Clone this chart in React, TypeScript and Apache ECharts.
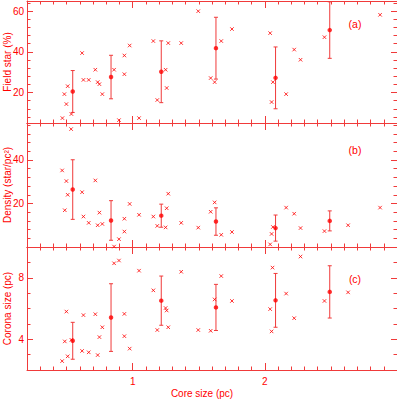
import React, { useEffect, useRef } from 'react';
import * as echarts from 'echarts';

// ---- data ----
const xRange = [0.2, 3.0];
const xTickLabels = [1, 2];

const fieldStarPoints: number[][] = [
  [0.468, 7.4], [0.483, 19.2], [0.498, 14.3], [0.508, 23.1], [0.536, 9.4], [0.617, 39.4],
  [0.627, 26.2], [0.667, 26.2], [0.717, 31.2], [0.735, 25.1], [0.748, 24.1], [0.770, 19.2],
  [0.859, 31.2], [0.896, 6.4], [0.937, 38.2], [0.937, 29.0], [0.977, 43.1], [1.048, 7.4],
  [1.156, 45.3], [1.186, 16.3], [1.249, 31.2], [1.257, 22.2], [1.269, 44.3], [1.367, 44.3],
  [1.496, 60.0], [1.590, 27.1], [1.620, 25.1], [1.670, 45.3], [1.751, 51.2], [2.040, 49.2],
  [2.061, 25.1], [2.051, 15.3], [2.161, 19.2], [2.222, 41.1], [2.270, 36.1], [2.451, 47.2],
  [2.872, 58.2],
];
const fieldStarMeans: number[][] = [
  [0.546, 20.5, 10.3], [0.836, 27.6, 10.7], [1.216, 30.2, 15.2],
  [1.630, 41.8, 15.2], [2.081, 27.2, 15.2], [2.491, 50.7, 13.9],
];

const densityPoints: number[][] = [
  [0.534, 54.2], [0.466, 35.2], [0.498, 30.3], [0.508, 24.0], [0.486, 16.9], [0.617, 25.2],
  [0.627, 14.0], [0.667, 11.1], [0.717, 30.6], [0.735, 10.0], [0.748, 15.8], [0.770, 10.6],
  [0.859, 0.2], [0.896, 3.6], [0.937, 13.0], [0.937, 7.1], [0.977, 19.8], [1.048, 14.8],
  [1.156, 14.0], [1.186, 9.7], [1.249, 9.0], [1.257, 17.8], [1.269, 24.5], [1.367, 11.1],
  [1.496, 8.9], [1.620, 20.5], [1.590, 16.2], [1.670, 5.6], [1.751, 6.9], [2.040, 1.2],
  [2.051, 6.0], [2.061, 9.2], [2.161, 18.1], [2.222, 15.3], [2.270, 8.7], [2.451, 7.3],
  [2.630, 10.0], [2.872, 18.1],
];
const densityMeans: number[][] = [
  [0.546, 26.4, 13.7], [0.836, 12.2, 9.1], [1.216, 14.4, 5.3],
  [1.630, 11.7, 6.3], [2.081, 8.7, 6.0], [2.491, 12.0, 4.6],
];

const coronaPoints: number[][] = [
  [0.466, 2.58], [0.486, 3.86], [0.498, 5.80], [0.508, 2.89], [0.536, 3.96], [0.617, 3.24],
  [0.627, 5.57], [0.667, 3.15], [0.717, 5.63], [0.735, 2.97], [0.748, 4.14], [0.770, 4.78],
  [0.859, 8.94], [0.896, 9.12], [0.937, 5.65], [0.937, 4.20], [0.977, 3.39], [1.048, 8.46],
  [1.156, 7.18], [1.186, 4.60], [1.249, 6.03], [1.257, 5.87], [1.269, 4.78], [1.367, 8.39],
  [1.496, 4.60], [1.590, 4.55], [1.620, 6.59], [1.670, 8.11], [1.751, 6.49], [2.058, 8.66],
  [2.040, 5.96], [2.051, 4.51], [2.161, 6.97], [2.222, 5.37], [2.270, 9.38], [2.451, 6.49],
  [2.630, 7.05],
];
const coronaMeans: number[][] = [
  [0.546, 3.90, 1.2], [0.836, 5.41, 2.2], [1.216, 6.51, 1.6],
  [1.630, 6.07, 1.5], [2.081, 6.53, 1.75], [2.491, 7.08, 1.7],
];

const yLabelsA = [20, 40, 60];
const yLabelsB = [20, 40];
const yLabelsC = [4, 8];

const panelNames = ['Field star (%)', 'Density (star/pc\u00b2)', 'Corona size (pc)'];
const panelTags = ['(a)', '(b)', '(c)'];
const xName = 'Core size (pc)';

// ---- styling ----
const RED = '#ff0000';
const LINE = '#f03a3a';
const FONT = '"Liberation Sans", Arial, Helvetica, sans-serif';

function steps(a: number, b: number, s: number): number[] {
  const out: number[] = [];
  for (let v = a; v <= b + 1e-9; v += s) out.push(Math.round(v * 1000) / 1000);
  return out;
}

const panels = [
  { points: fieldStarPoints, means: fieldStarMeans, min: 5, max: 65, labels: yLabelsA, minor: steps(8, 64, 4) },
  { points: densityPoints, means: densityMeans, min: 0, max: 57, labels: yLabelsB, minor: steps(4, 56, 4) },
  { points: coronaPoints, means: coronaMeans, min: 2, max: 10, labels: yLabelsC, minor: steps(3, 9, 1) },
];

const grids = [
  { left: 27, top: 1, width: 370, height: 122 },
  { left: 27, top: 123, width: 370, height: 124 },
  { left: 27, top: 247, width: 370, height: 123 },
];

const xMinor = steps(0.3, 2.9, 0.1);
const xMajor = [1, 2];

function buildOption() {
  const xAxes: any[] = [];
  const yAxes: any[] = [];
  const series: any[] = [];

  panels.forEach((p, g) => {
    const isLast = g === panels.length - 1;
    const xBase = {
      type: 'value', gridIndex: g, min: xRange[0], max: xRange[1],
      splitLine: { show: false },
    };
    const mkX = (pos: string, ticks: number[], len: number, line: boolean, labels: boolean) => ({
      ...xBase,
      position: pos,
      axisLine: { show: line, onZero: false, lineStyle: { color: LINE, width: 1 } },
      axisTick: { show: true, inside: true, length: len, customValues: ticks, lineStyle: { color: LINE, width: 1 } },
      axisLabel: labels
        ? { show: true, customValues: xTickLabels, color: RED, fontSize: 10, fontFamily: FONT, margin: 6 }
        : { show: false },
      ...(labels
        ? {
            name: xName, nameLocation: 'middle', nameGap: 18, nameMoveOverlap: false,
            nameTextStyle: { color: RED, fontSize: 10, fontFamily: FONT, padding: [0, 20, 0, 0] },
          }
        : {}),
    });
    xAxes.push(mkX('bottom', xMinor, 3.5, true, false));
    xAxes.push(mkX('bottom', xMajor, 7, false, isLast));
    xAxes.push(mkX('top', xMinor, 3.5, true, false));
    xAxes.push(mkX('top', xMajor, 7, false, false));

    const mkY = (pos: string, ticks: number[], len: number, line: boolean, labels: boolean) => ({
      type: 'value', gridIndex: g, min: p.min, max: p.max, position: pos,
      splitLine: { show: false },
      axisLine: { show: line, onZero: false, lineStyle: { color: LINE, width: 1 } },
      axisTick: { show: true, inside: true, length: len, customValues: ticks, lineStyle: { color: LINE, width: 1 } },
      axisLabel: labels
        ? { show: true, customValues: p.labels, color: RED, fontSize: 10, fontFamily: FONT, margin: 3 }
        : { show: false },
      ...(labels
        ? {
            name: panelNames[g], nameLocation: 'middle', nameGap: 15, nameMoveOverlap: false,
            nameTextStyle: { color: RED, fontSize: 10, fontFamily: FONT },
          }
        : {}),
    });
    yAxes.push(mkY('left', p.minor, 3.5, true, false));
    yAxes.push(mkY('left', p.labels, 6, false, true));
    yAxes.push(mkY('right', p.minor, 3.5, true, false));
    yAxes.push(mkY('right', p.labels, 6, false, false));

    const xi = g * 4;
    const yi = g * 4;

    series.push({
      type: 'scatter', xAxisIndex: xi, yAxisIndex: yi,
      data: p.points,
      symbol: 'path://M0,0L10,10M10,0L0,10',
      symbolSize: 3.5,
      itemStyle: { color: 'rgba(0,0,0,0)', borderColor: RED, borderWidth: 1 },
      silent: true,
    });
    series.push({
      type: 'custom', xAxisIndex: xi, yAxisIndex: yi,
      data: p.means,
      encode: { x: 0, y: 1 },
      clip: false,
      silent: true,
      renderItem: (params: any, api: any) => {
        const x = api.value(0);
        const y = api.value(1);
        const e = api.value(2);
        const t = api.coord([x, y + e]);
        const b = api.coord([x, y - e]);
        const style = { stroke: LINE, lineWidth: 1, fill: null };
        return {
          type: 'group',
          children: [
            { type: 'line', shape: { x1: t[0], y1: t[1], x2: b[0], y2: b[1] }, style },
            { type: 'line', shape: { x1: t[0] - 2, y1: t[1], x2: t[0] + 2, y2: t[1] }, style },
            { type: 'line', shape: { x1: b[0] - 2, y1: b[1], x2: b[0] + 2, y2: b[1] }, style },
          ],
        };
      },
    });
    series.push({
      type: 'scatter', xAxisIndex: xi, yAxisIndex: yi,
      data: p.means.map((m) => [m[0], m[1]]),
      symbol: 'circle',
      symbolSize: 4.5,
      itemStyle: { color: RED },
      silent: true,
      z: 5,
    });
  });

  const tagY = [24, 150, 279];
  const graphic = panelTags.map((t, i) => ({
    type: 'text', x: 355, y: tagY[i],
    style: { text: t, fill: RED, fontSize: 10.5, fontFamily: FONT, align: 'center', verticalAlign: 'middle' },
  }));

  return {
    animation: false,
    backgroundColor: '#ffffff',
    grid: grids.map((gr) => ({ ...gr, containLabel: false, outerBoundsMode: 'none' })),
    xAxis: xAxes,
    yAxis: yAxes,
    series,
    graphic,
  };
}

export default function App() {
  const ref = useRef<HTMLDivElement>(null);
  useEffect(() => {
    if (!ref.current) return;
    const chart = echarts.init(ref.current, undefined, { renderer: 'svg' });
    chart.setOption(buildOption() as any);
    return () => chart.dispose();
  }, []);
  return (
    <div
      ref={ref}
      style={{ position: 'fixed', left: 0, top: 0, width: 397, height: 399, background: '#fff' }}
    />
  );
}
